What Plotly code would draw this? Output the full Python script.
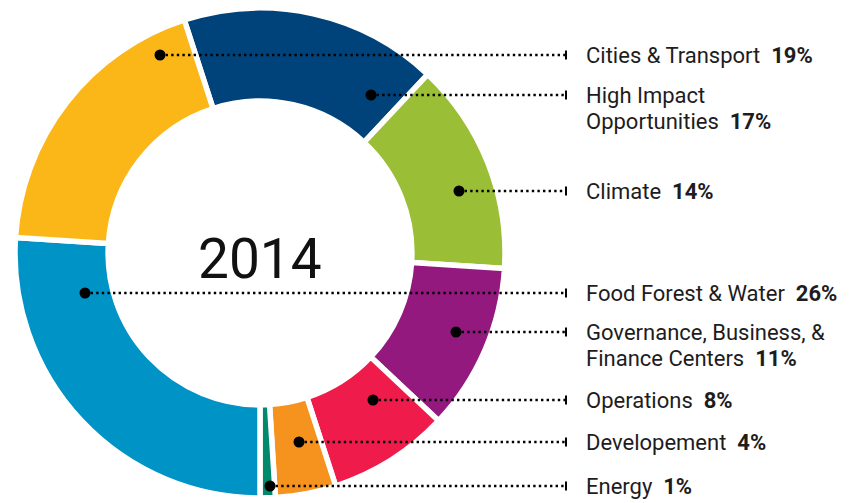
import plotly.graph_objects as go

# ---- data (in clockwise slice order, starting at the dark-blue slice) ----
categories = ["High Impact Opportunities", "Climate",
              "Governance, Business, & Finance Centers", "Operations",
              "Developement", "Energy", "Food Forest & Water", "Cities & Transport"]
values = [17, 14, 11, 8, 4, 1, 26, 19]
label_lines = [["High Impact", "Opportunities"], ["Climate"],
               ["Governance, Business, &", "Finance Centers"], ["Operations"],
               ["Developement"], ["Energy"], ["Food Forest & Water"], ["Cities & Transport"]]
center_title = "2014"

# ---- styling / layout ----
colors = ["#00437A", "#9BBE37", "#93197F", "#EF1B4B",
          "#F6921E", "#00896B", "#0093C5", "#FBB717"]
W, H = 859, 503
OFF = 8  # page body margin: layout coordinates below are page pixels
# leader-line y position and dot x position (page pixels) per category
leader_y = [95, 191, 332, 400, 442, 486, 293, 55]
dot_x = [371, 459, 456, 373, 299, 270, 85, 160]
tick_x = 566
text_x = 584
line_gap = 26
FONT = "Roboto, Lato, sans-serif"
TXT = "#1E1C1D"

cx, cy, R = 260, 253, 245
pcx, pcy = cx - OFF, cy - OFF  # figure pixel coordinates

fig = go.Figure()
fig.add_trace(go.Pie(
    values=values, labels=categories, sort=False, direction="clockwise",
    rotation=-18, hole=0.62, textinfo="none", hoverinfo="skip",
    marker=dict(colors=colors, line=dict(color="white", width=5.5)),
    domain=dict(x=[(pcx - R) / W, (pcx + R) / W],
                y=[max(0.0, 1 - (pcy + R) / H), min(1.0, 1 - (pcy - R) / H)]),
    showlegend=False,
))

shapes = []
annotations = []
for cat, v, lines, y, dx in zip(categories, values, label_lines, leader_y, dot_x):
    shapes.append(dict(type="line", xref="x", yref="y", x0=dx, x1=tick_x, y0=y, y1=y,
                       line=dict(color="black", width=2.4, dash="2.4px,3.2px")))
    shapes.append(dict(type="line", xref="x", yref="y", x0=tick_x, x1=tick_x,
                       y0=y - 4.5, y1=y + 4.5, line=dict(color="black", width=2)))
    shapes.append(dict(type="circle", xref="x", yref="y", x0=dx - 5.5, x1=dx + 5.5,
                       y0=y - 5.5, y1=y + 5.5, fillcolor="black", line=dict(width=0)))
    for i, ln in enumerate(lines):
        txt = ln
        if i == len(lines) - 1:
            txt = ln + "\u00a0\u00a0<b>%d%%</b>" % v
        annotations.append(dict(x=text_x, y=y + i * line_gap, xref="x", yref="y",
                                text=txt, showarrow=False, xanchor="left", yanchor="middle",
                                font=dict(family=FONT, size=22, color=TXT)))

annotations.append(dict(x=cx, y=259, xref="x", yref="y", text=center_title,
                        showarrow=False, xanchor="center", yanchor="middle",
                        font=dict(family=FONT, size=55, color="#111111")))

fig.update_layout(
    width=W, height=H, margin=dict(l=0, r=0, t=0, b=0),
    paper_bgcolor="white", plot_bgcolor="rgba(0,0,0,0)",
    xaxis=dict(range=[OFF, W + OFF], visible=False, fixedrange=True, domain=[0, 1]),
    yaxis=dict(range=[H + OFF, OFF], visible=False, fixedrange=True, domain=[0, 1]),
    shapes=shapes, annotations=annotations,
)
fig.write_html("out.html")
